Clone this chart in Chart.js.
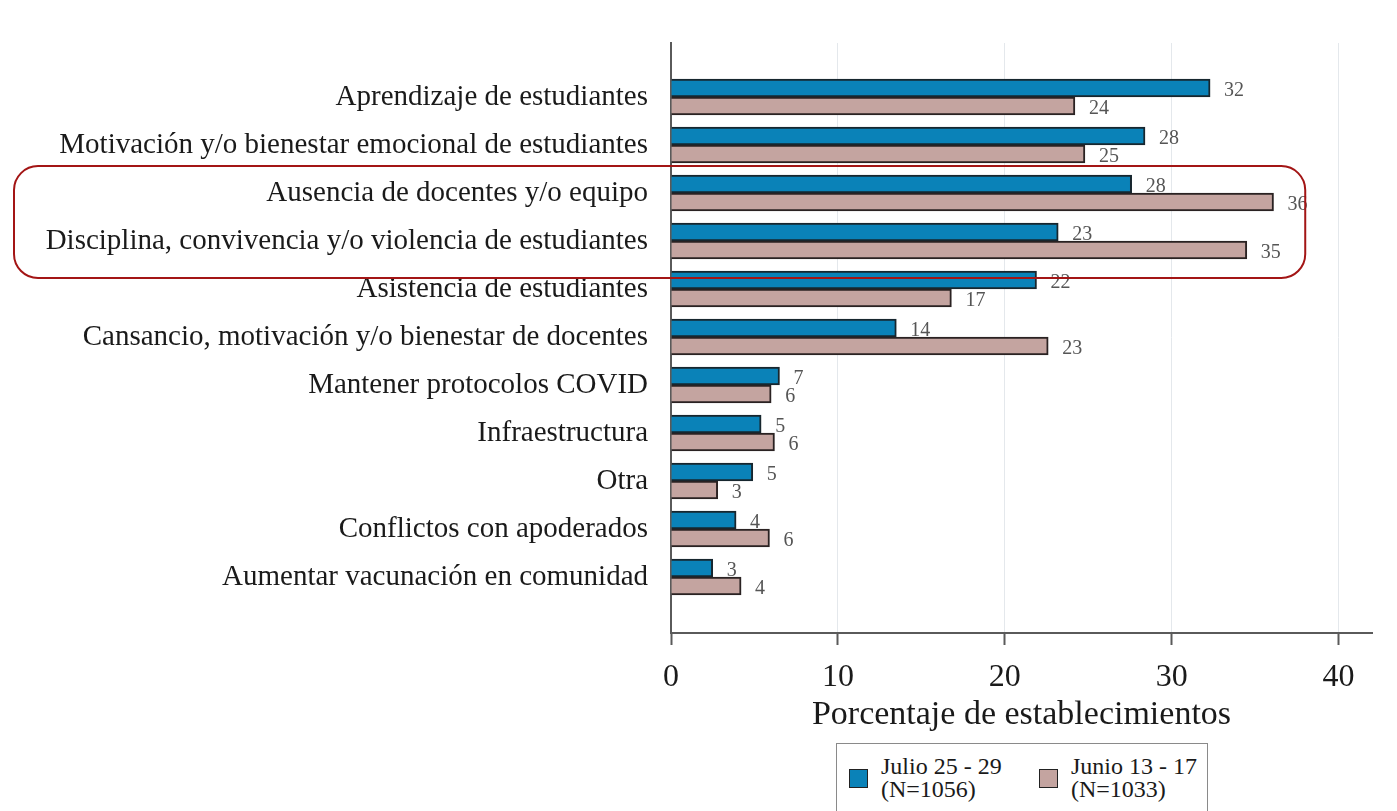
<!DOCTYPE html>
<html lang="es">
<head>
<meta charset="utf-8">
<title>Porcentaje de establecimientos</title>
<script src="https://cdn.jsdelivr.net/npm/chart.js@4/dist/chart.umd.min.js"></script>
<style>
  html, body { margin: 0; padding: 0; background: #fff; }
  #wrap { position: absolute; left: 0; top: 0; width: 1397px; height: 740px; }
  #legend {
    position: absolute; left: 836px; top: 743px; width: 370px; height: 90px;
    border: 1px solid #8a8a8a; background: #fff;
    font-family: "Liberation Serif", "Times New Roman", serif; font-size: 24px;
    line-height: 23px; color: #1a1a1a;
  }
  .item { position: absolute; top: 11px; }
  .swatch { position: absolute; top: 14px; width: 17px; height: 17px; border: 1px solid #222; }
  .txt { position: absolute; left: 32px; white-space: nowrap; }
</style>
</head>
<body>
<div id="wrap"><canvas id="chart"></canvas></div>
<div id="legend"></div>
<script>
// categories, top to bottom
const categories = [
  "Aprendizaje de estudiantes",
  "Motivación y/o bienestar emocional de estudiantes",
  "Ausencia de docentes y/o equipo",
  "Disciplina, convivencia y/o violencia de estudiantes",
  "Asistencia de estudiantes",
  "Cansancio, motivación y/o bienestar de docentes",
  "Mantener protocolos COVID",
  "Infraestructura",
  "Otra",
  "Conflictos con apoderados",
  "Aumentar vacunación en comunidad"
];
const julio = [32.3, 28.4, 27.6, 23.2, 21.9, 13.5, 6.5, 5.4, 4.9, 3.9, 2.5];
const junio = [24.2, 24.8, 36.1, 34.5, 16.8, 22.6, 6.0, 6.2, 2.8, 5.9, 4.2];
const seriesLabels = [["Julio 25 - 29", "(N=1056)"], ["Junio 13 - 17", "(N=1033)"]];
const xTicks = [0, 10, 20, 30, 40];
const highlighted = [2, 3]; // rows framed in red

const FONT = "'Liberation Serif', 'Times New Roman', serif";
Chart.defaults.font.family = FONT;

const toPoints = (arr) => arr.map((v, i) => ({ x: v, y: i }));

// value labels to the right of each bar
const valueLabels = {
  id: "valueLabels",
  afterDatasetsDraw(chart) {
    const ctx = chart.ctx;
    ctx.save();
    ctx.font = "20px " + FONT;
    ctx.fillStyle = "#555";
    ctx.textAlign = "left";
    ctx.textBaseline = "middle";
    chart.data.datasets.forEach((ds, di) => {
      chart.getDatasetMeta(di).data.forEach((bar, i) => {
        ctx.fillText(String(Math.round(ds.data[i].x)), bar.x + 14, bar.y + 3);
      });
    });
    ctx.restore();
  }
};

// red rounded frame around the highlighted rows
const highlightBox = {
  id: "highlightBox",
  afterDraw(chart) {
    const y = chart.scales.y, x = chart.scales.x;
    const top = y.getPixelForValue(highlighted[0] - 0.56);
    const bottom = y.getPixelForValue(highlighted[1] + 0.77);
    const left = 14;
    const right = x.getPixelForValue(38);
    const ctx = chart.ctx;
    ctx.save();
    ctx.strokeStyle = "#a31515";
    ctx.lineWidth = 2;
    ctx.beginPath();
    ctx.roundRect(left, top, right - left, bottom - top, 24);
    ctx.stroke();
    ctx.restore();
  }
};

const chart = new Chart(document.getElementById("chart"), {
  type: "bar",
  data: {
    datasets: [
      {
        label: seriesLabels[0],
        data: toPoints(julio),
        backgroundColor: "#0a82b8",
        borderColor: "#17262e",
        borderWidth: 2,
        barThickness: 18
      },
      {
        label: seriesLabels[1],
        data: toPoints(junio),
        backgroundColor: "#c4a4a0",
        borderColor: "#2a2222",
        borderWidth: 2,
        barThickness: 18
      }
    ]
  },
  options: {
    indexAxis: "y",
    responsive: true,
    maintainAspectRatio: false,
    animation: false,
    layout: { padding: { top: 43, left: 0, right: 25, bottom: 0 } },
    plugins: {
      legend: { display: false },
      tooltip: { enabled: false }
    },
    scales: {
      y: {
        type: "linear",
        bounds: "data",
        offset: false,
        reverse: true,
        min: -1.125,
        max: 11.167,
        afterBuildTicks: (s) => { s.ticks = categories.map((c, i) => ({ value: i })); },
        afterFit: (s) => { s.width = 671; },
        grid: { display: false, offset: false },
        border: { display: true, color: "#5a5a5a", width: 2 },
        ticks: {
          padding: 15,
          color: "#1a1a1a",
          font: { size: 29 },
          callback: (v) => categories[v]
        }
      },
      x: {
        type: "linear",
        bounds: "data",
        min: 0,
        max: 42,
        afterBuildTicks: (s) => { s.ticks = xTicks.map((v) => ({ value: v })); },
        afterFit: (s) => { s.height = 107; },
        grid: {
          color: "#e4e8ec",
          lineWidth: 1,
          drawTicks: true,
          tickLength: 12,
          tickColor: "#5a5a5a",
          tickWidth: 2
        },
        border: { display: true, color: "#5a5a5a", width: 2 },
        ticks: {
          padding: 13,
          color: "#1a1a1a",
          font: { size: 32 },
          maxRotation: 0
        },
        title: {
          display: true,
          text: "Porcentaje de establecimientos",
          color: "#1a1a1a",
          font: { size: 34 },
          padding: { top: 0, bottom: 5 }
        }
      }
    }
  },
  plugins: [valueLabels, highlightBox]
});

// legend built from the datasets
const legendBox = document.getElementById("legend");
const slots = [12, 202];
chart.data.datasets.forEach((ds, i) => {
  const item = document.createElement("div");
  item.className = "item";
  item.style.left = slots[i] + "px";
  item.innerHTML =
    '<div class="swatch" style="background:' + ds.backgroundColor + '"></div>' +
    '<div class="txt">' + ds.label.join("<br>") + "</div>";
  legendBox.appendChild(item);
});
</script>
</body>
</html>
